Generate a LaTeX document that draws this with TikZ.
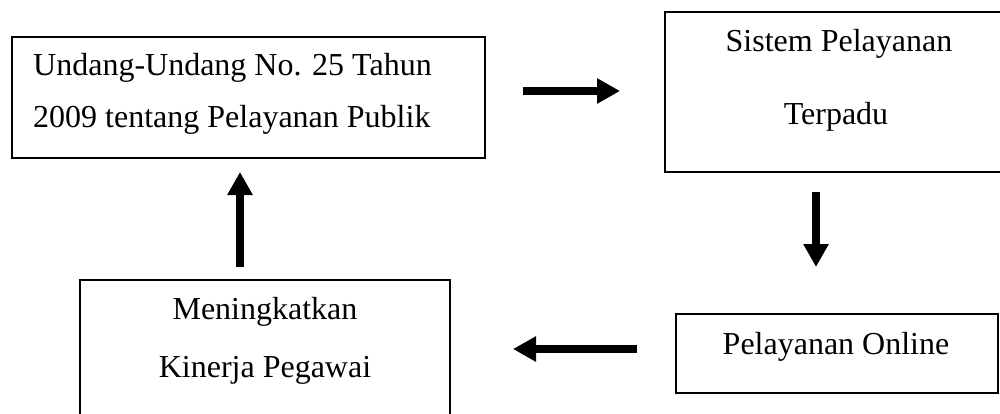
\documentclass[tikz,border=0pt]{standalone}
\usepackage{fontspec}
\setmainfont{Liberation Serif}
\usetikzlibrary{arrows.meta}
\begin{document}
\begin{tikzpicture}[x=1pt,y=-1pt,
  box/.style={draw=black,line width=1.3pt,inner sep=0pt,rectangle},
  txt/.style={inner sep=0pt,font=\fontsize{32}{38}\selectfont},
  bigarrow/.style={line width=8pt,-{Triangle[length=23pt,width=24pt]}}]
\clip (0,0) rectangle (1000,414);
\fill[white] (0,0) rectangle (1000,414);
% boxes
\node[box,minimum width=473,minimum height=121] (b1) at (248.5,97.5) {};
\node[box,minimum width=345,minimum height=160] (b2) at (837.5,92) {};
\node[box,minimum width=322,minimum height=79] (b3) at (837,353.5) {};
\node[box,minimum width=370,minimum height=150] (b4) at (265,355) {};
% texts
\node[txt,anchor=base west] (t1a) at (33,76) {Undang-Undang No. 25 Tahun};
\node[txt,anchor=base west] (t1b) at (33,128) {2009 tentang Pelayanan Publik};
\node[txt,anchor=base] (t2a) at (839,52) {Sistem Pelayanan};
\node[txt,anchor=base] (t2b) at (836,125) {Terpadu};
\node[txt,anchor=base] (t3) at (836,354) {Pelayanan Online};
\node[txt,anchor=base] (t4a) at (265,319) {Meningkatkan};
\node[txt,anchor=base] (t4b) at (265,377) {Kinerja Pegawai};
% arrow end points
\coordinate (a1s) at (523,91);
\coordinate (a1e) at (620,91);
\coordinate (a2s) at (816,192);
\coordinate (a2e) at (816,267);
\coordinate (a3s) at (637,349);
\coordinate (a3e) at (513,349);
\coordinate (a4s) at (240,267);
\coordinate (a4e) at (240,172);
\draw[bigarrow] (a1s) -- (a1e);
\draw[bigarrow] (a2s) -- (a2e);
\draw[bigarrow] (a3s) -- (a3e);
\draw[bigarrow] (a4s) -- (a4e);
\end{tikzpicture}
\end{document}
